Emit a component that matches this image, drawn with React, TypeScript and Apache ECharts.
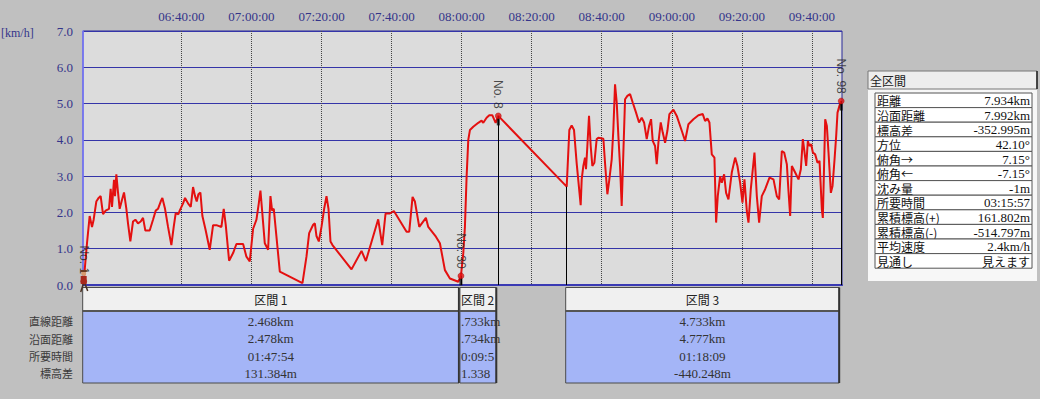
import React, { useEffect, useRef } from "react";
import * as echarts from "echarts";

// time in minutes after midnight, speed in km/h
const times = [
  372.1, 372.37, 373.04, 373.8, 374.47, 374.94, 375.7, 376.37, 376.94, 377.61, 378.37, 379.32, 379.8, 380.18,
  380.75, 381.04, 381.42, 381.9, 382.37, 383.04, 383.61, 384.28, 384.75, 385.42, 386.18, 386.85, 387.61, 388.37,
  389.04, 389.7, 390.94, 391.89, 392.66, 393.32, 394.08, 394.56, 395.32, 396.18, 397.13, 397.8, 398.37, 399.13,
  399.51, 400.47, 401.04, 401.89, 402.66, 403.32, 403.89, 404.37, 404.85, 405.42, 405.99, 406.94, 408.08, 409.04,
  409.99, 411.42, 412.08, 412.66, 413.61, 414.75, 415.7, 417.61, 418.56, 419.51, 420.47, 421.42, 422.09, 422.56,
  423.04, 423.8, 424.75, 425.42, 425.89, 426.37, 428.09, 434.56, 435.7, 436.47, 437.61, 438.09, 438.56, 439.23,
  439.99, 440.75, 441.42, 441.99, 442.56, 443.13, 448.56, 451.42, 452.66, 456.18, 457.33, 458.28, 459.52, 460.66,
  464.28, 465.04, 465.99, 466.66, 467.9, 469.8, 470.47, 472.66, 473.8, 475.23, 476.66, 479.04, 479.8, 480.47,
  480.94, 481.42, 481.9, 482.37, 483.32, 484.75, 485.7, 486.18, 487.13, 487.9, 488.75, 489.71, 490.47, 510.0,
  510.75, 511.42, 512.09, 512.85, 513.99, 514.28, 514.75, 515.23, 515.51, 515.9, 516.37, 516.85, 517.32, 517.9,
  518.56, 519.04, 520.47, 520.94, 521.61, 522.18, 522.85, 523.32, 523.8, 524.28, 524.75, 525.23, 525.7, 526.18,
  526.66, 527.32, 528.09, 528.85, 529.8, 530.66, 531.42, 532.09, 532.85, 533.51, 534.09, 534.56, 535.23, 535.7,
  536.18, 536.85, 537.42, 538.09, 538.75, 539.32, 540.47, 541.42, 542.85, 543.8, 544.75, 546.18, 547.61, 548.85,
  549.51, 550.18, 550.75, 551.42, 552.18, 552.66, 553.13, 553.8, 554.28, 554.94, 555.51, 556.18, 557.13, 558.09,
  558.75, 559.51, 560.18, 560.75, 561.42, 561.9, 562.56, 563.13, 563.61, 564.28, 564.94, 565.7, 566.66, 567.9,
  569.04, 569.99, 570.66, 571.42, 572.09, 572.85, 573.32, 573.8, 574.28, 575.23, 576.18, 576.85, 577.42, 577.8,
  578.37, 578.85, 579.32, 579.8, 580.28, 580.94, 581.61, 582.18, 582.85, 583.13, 583.8, 584.28, 584.75, 585.42,
  585.9, 586.47, 586.94, 587.32, 587.9, 588.37,
];
const speeds = [
  0.1, 0.4, 1.15, 1.9, 1.6, 1.8, 2.3, 2.4, 2.45, 1.95, 2.05, 2.1, 2.65, 2.15,
  2.9, 2.45, 3.05, 2.55, 2.1, 2.35, 2.55, 2.1, 1.7, 1.2, 1.75, 1.8, 1.7, 1.75,
  1.85, 1.5, 1.5, 1.8, 2.05, 2.1, 2.3, 2.4, 2.1, 1.6, 1.1, 1.6, 1.98, 1.95,
  2.05, 2.25, 2.4, 2.25, 2.15, 2.7, 2.45, 2.3, 2.5, 2.55, 1.9, 1.5, 0.97, 1.65,
  1.65, 1.6, 2.1, 1.65, 0.67, 0.88, 1.13, 1.13, 0.78, 0.65, 1.55, 1.8, 2.25, 2.6,
  2.05, 1.15, 0.97, 2.45, 2.05, 2.1, 0.37, 0.05, 0.78, 1.43, 1.66, 1.7, 1.35, 1.2,
  1.6, 2.1, 2.45, 2.1, 1.2, 1.1, 0.43, 0.94, 0.66, 1.81, 1.1, 1.97, 1.97, 2.04,
  1.47, 1.47, 2.43, 2.3, 1.6, 1.85, 1.6, 1.33, 1.15, 0.41, 0.18, 0.09, 0.25, 0.87,
  1.6, 2.98, 4.0, 4.27, 4.36, 4.47, 4.53, 4.47, 4.61, 4.68, 4.68, 4.47, 4.66, 2.71,
  4.27, 4.4, 4.27, 3.35, 2.2, 2.91, 3.28, 3.51, 3.19, 3.83, 4.66, 3.83, 3.28, 3.37,
  4.02, 4.06, 4.03, 3.37, 2.5, 2.91, 3.46, 4.29, 5.53, 5.03, 4.11, 3.28, 2.18, 3.65,
  5.12, 5.21, 5.26, 5.03, 4.75, 4.48, 4.61, 4.48, 4.02, 4.38, 4.57, 3.97, 3.83, 3.33,
  3.92, 4.48, 4.2, 3.92, 4.25, 4.71, 4.83, 4.66, 4.25, 3.97, 4.43, 4.57, 4.68, 4.71,
  4.52, 4.59, 4.48, 3.6, 3.51, 1.72, 2.45, 3.0, 2.82, 3.05, 2.54, 2.36, 3.1, 3.51,
  3.28, 2.82, 2.27, 2.91, 2.04, 1.72, 2.64, 3.19, 3.65, 2.45, 1.72, 2.45, 2.64, 2.96,
  2.91, 2.45, 2.36, 3.69, 3.65, 3.33, 2.59, 1.9, 3.28, 3.1, 2.91, 3.19, 4.02, 3.74,
  3.28, 3.97, 3.83, 3.88, 3.65, 3.6, 3.37, 3.42, 2.08, 1.85, 4.57, 4.38, 3.65, 2.54,
  2.73, 3.46, 4.11, 4.75, 4.95, 5.07,
];

const markerTimes = [372.1, 479.8, 490.47, 588.37];
const markerSpeeds = [0.1, 0.25, 4.66, 5.07];
const markerLabels = ["No. 1", "No. 30", "No. 8", "No. 98"];

const dropTimes = [479.8, 490.47, 510.0, 588.37];
const dropSpeeds = [0.25, 4.66, 2.71, 5.07];

const xMin = 371.9;
const xMax = 588.6;
const timeTicks = [400, 420, 440, 460, 480, 500, 520, 540, 560, 580];

const rowLabels = ["直線距離", "沿面距離", "所要時間", "標高差"];
const intervalNames = ["区間 1", "区間 2", "区間 3"];
const intervalStart = [372.1, 479.8, 510.0];
const intervalEnd = [479.8, 490.47, 588.37];
const interval1Values = ["2.468km", "2.478km", "01:47:54", "131.384m"];
const interval2Values = [".733km", ".734km", "0:09:5", "1.338"];
const interval3Values = ["4.733km", "4.777km", "01:18:09", "-440.248m"];

const summaryTitle = "全区間";
const summaryLabels = [
  "距離", "沿面距離", "標高差", "方位", "俯角→", "俯角←", "沈み量",
  "所要時間", "累積標高(+)", "累積標高(-)", "平均速度", "見通し",
];
const summaryValues = [
  "7.934km", "7.992km", "-352.995m", "42.10°", "7.15°", "-7.15°", "-1m",
  "03:15:57", "161.802m", "-514.797m", "2.4km/h", "見えます",
];

const pad = (n: number) => (n < 10 ? "0" + n : "" + n);
const fmtTime = (m: number) => `${pad(Math.floor(m / 60))}:${pad(Math.round(m % 60))}:00`;

const SERIF = '"Liberation Serif", "DejaVu Serif", serif';
const CJK = '"Noto Sans CJK JP", sans-serif';
const LABEL_COLOR = "#34348a";

export default function App() {
  const ref = useRef<HTMLDivElement>(null);

  useEffect(() => {
    if (!ref.current) return;
    const chart = echarts.init(ref.current, null, { renderer: "svg" });
    const lineData = times.map((t, i) => [t, speeds[i]]);
    const markerData = markerTimes.map((t, i) => [t, markerSpeeds[i]]);

    chart.setOption({
      animation: false,
      backgroundColor: "#c0c0c0",
      grid: {
        left: 83,
        top: 31,
        width: 759,
        height: 254,
        show: true,
        backgroundColor: "#dcdcdc",
        borderColor: "#2a2a9a",
        borderWidth: 1,
      },
      xAxis: [
        {
          type: "value",
          position: "top",
          min: xMin,
          max: xMax,
          axisLine: { show: true, lineStyle: { color: "#2a2a9a", width: 1 } },
          axisTick: { show: false, customValues: timeTicks },
          axisLabel: {
            customValues: timeTicks,
            formatter: (v: number) => fmtTime(v),
            color: LABEL_COLOR,
            fontFamily: SERIF,
            fontSize: 13,
            margin: 8,
          },
          splitLine: { show: true, lineStyle: { color: "#444", type: "dotted", width: 1 } },
        },
        {
          type: "value",
          position: "bottom",
          min: xMin,
          max: xMax,
          axisLine: { show: true, onZero: false, lineStyle: { color: "#3a3ab4", width: 2 } },
          axisTick: { show: false },
          axisLabel: { show: false },
          splitLine: { show: false },
        },
      ],
      yAxis: {
        type: "value",
        min: 0,
        max: 7,
        interval: 1,
        axisLine: { show: true, lineStyle: { color: "#7a7aff", width: 1.5 } },
        axisTick: { show: false },
        axisLabel: {
          formatter: (v: number) => v.toFixed(1),
          color: LABEL_COLOR,
          fontFamily: SERIF,
          fontSize: 13,
          margin: 10,
        },
        splitLine: { show: true, lineStyle: { color: "#3434a8", width: 1 } },
      },
      series: [
        {
          type: "line",
          data: lineData,
          showSymbol: false,
          symbol: "none",
          lineStyle: { color: "#e41010", width: 2 },
          z: 3,
          markLine: {
            silent: true,
            symbol: ["none", "none"],
            label: { show: false },
            lineStyle: { color: "#000", width: 1, type: "solid" },
            data: dropTimes.map((t, i) => [{ coord: [t, dropSpeeds[i]] }, { coord: [t, 0] }]),
          },
        },
        {
          type: "scatter",
          data: markerData.slice(1),
          symbol: "rect",
          symbolSize: [3, 7],
          symbolOffset: [0, 6],
          itemStyle: { color: "#111" },
          z: 4,
        },
        {
          type: "scatter",
          data: markerData,
          symbol: "circle",
          symbolSize: 6,
          itemStyle: { color: "#e41010", borderColor: "#900", borderWidth: 0.5 },
          z: 5,
          label: {
            show: true,
            position: "top",
            distance: 4,
            rotate: -90,
            align: "right",
            verticalAlign: "middle",
            color: "#222",
            fontFamily: '"Liberation Sans", sans-serif',
            fontSize: 12,
            formatter: (p: any) => markerLabels[p.dataIndex],
          },
        },
      ],
    });

    const px = (t: number) => chart.convertToPixel({ xAxisIndex: 0 }, t) as number;
    const py = (v: number) => chart.convertToPixel({ yAxisIndex: 0 }, v) as number;

    const graphics: any[] = [];
    graphics.push({
      type: "text",
      style: { text: "[km/h]", x: 1, y: 33, fill: LABEL_COLOR, font: `12px ${SERIF}`, verticalAlign: "middle" },
    });

    const headTop = 287.5;
    const headH = 23.5;
    const bodyTop = headTop + headH;
    const bodyH = 72;
    const rowY = [321, 338.5, 356, 373];

    rowLabels.forEach((l, i) => {
      graphics.push({
        type: "text",
        style: { text: l, x: 73, y: rowY[i], fill: "#3a3a3a", font: `11px ${CJK}`, align: "right", verticalAlign: "middle" },
      });
    });

    const intervalValues = [interval1Values, interval2Values, interval3Values];
    intervalNames.forEach((name, k) => {
      const x1 = px(intervalStart[k]) - 1;
      const x2 = px(intervalEnd[k]) - 2;
      const w = x2 - x1;
      const cx = (x1 + x2) / 2;
      graphics.push({
        type: "rect",
        shape: { x: x1, y: headTop, width: w, height: headH },
        style: { fill: "#f0f0f0", stroke: "#4a4a4a", lineWidth: 1 },
      });
      graphics.push({
        type: "rect",
        shape: { x: x1, y: bodyTop, width: w, height: bodyH },
        style: { fill: "#a4b5f7", stroke: "#4a4a4a", lineWidth: 1 },
      });
      graphics.push({
        type: "line",
        shape: { x1: x1, y1: bodyTop, x2: x2, y2: bodyTop },
        style: { stroke: "#555", lineWidth: 2 },
      });
      graphics.push({
        type: "line",
        shape: { x1: x2, y1: headTop, x2: x2, y2: bodyTop + bodyH },
        style: { stroke: "#333", lineWidth: 2 },
      });
      const narrow = w < 60;
      graphics.push({
        type: "text",
        style: {
          text: name,
          x: narrow ? x1 + 1 : cx,
          y: headTop + headH / 2,
          fill: "#222",
          font: `12px ${CJK}`,
          align: narrow ? "left" : "center",
          verticalAlign: "middle",
        },
      });
      intervalValues[k].forEach((v, i) => {
        graphics.push({
          type: "text",
          style: {
            text: v,
            x: narrow ? x1 + 1 : cx,
            y: rowY[i],
            fill: "#333",
            font: `13px ${SERIF}`,
            align: narrow ? "left" : "center",
            verticalAlign: "middle",
          },
        });
      });
    });

    // summary panel
    const pX = 868;
    const pY = 71;
    const pW = 169;
    graphics.push({
      type: "rect",
      shape: { x: pX, y: pY, width: pW, height: 210 },
      style: { fill: "#f7f7f7", stroke: "none" },
    });
    graphics.push({
      type: "rect",
      shape: { x: pX, y: pY, width: pW, height: 18 },
      style: { fill: "#ededed", stroke: "#777", lineWidth: 1 },
    });
    graphics.push({
      type: "line",
      shape: { x1: pX + pW, y1: pY, x2: pX + pW, y2: pY + 18 },
      style: { stroke: "#222", lineWidth: 1.5 },
    });
    graphics.push({
      type: "text",
      style: { text: summaryTitle, x: pX + 2, y: pY + 9.5, fill: "#222", font: `12px ${CJK}`, verticalAlign: "middle" },
    });
    const tX = 875;
    const tW = 157;
    const tTop = 93;
    const rH = 14.6;
    summaryLabels.forEach((l, i) => {
      const y = tTop + i * rH;
      graphics.push({
        type: "rect",
        shape: { x: tX, y, width: tW, height: rH },
        style: { fill: "#ffffff", stroke: "#555", lineWidth: 1 },
      });
      graphics.push({
        type: "text",
        style: { text: l, x: tX + 2, y: y + rH / 2 + 0.5, fill: "#111", font: `10px ${CJK}`, verticalAlign: "middle" },
        scaleX: 1.2,
        scaleY: 1.2,
        originX: tX + 2,
        originY: y + rH / 2 + 0.5,
      });
      graphics.push({
        type: "text",
        style: {
          text: summaryValues[i],
          x: tX + tW - 2,
          y: y + rH / 2 + 0.5,
          fill: "#111",
          font: i === summaryValues.length - 1 ? `10px ${CJK}` : `12px ${SERIF}`,
          align: "right",
          verticalAlign: "middle",
        },
        scaleX: i === summaryValues.length - 1 ? 1.2 : 1.08,
        scaleY: i === summaryValues.length - 1 ? 1.2 : 1.08,
        originX: tX + tW - 2,
        originY: y + rH / 2 + 0.5,
      });
    });

    // hiker icon at the start point
    const hx = px(markerTimes[0]);
    const hy = py(0);
    graphics.push(
      { type: "line", shape: { x1: hx, y1: hy - 2, x2: hx - 3, y2: hy + 7 }, style: { stroke: "#4a3020", lineWidth: 1.5 }, z: 20 },
      { type: "line", shape: { x1: hx + 1, y1: hy - 2, x2: hx + 4, y2: hy + 6 }, style: { stroke: "#4a3020", lineWidth: 1.5 }, z: 20 },
      { type: "rect", shape: { x: hx - 3, y: hy - 9, width: 6, height: 8 }, style: { fill: "#a8281c" }, z: 20 },
      { type: "circle", shape: { cx: hx, cy: hy - 11.5, r: 2.5 }, style: { fill: "#d49a70" }, z: 20 },
      { type: "rect", shape: { x: hx - 3, y: hy - 15, width: 6, height: 2 }, style: { fill: "#6a3a20" }, z: 20 }
    );

    chart.setOption({ graphic: graphics });

    return () => chart.dispose();
  }, []);

  return (
    <div
      ref={ref}
      style={{ position: "absolute", left: 0, top: 0, width: 1040, height: 399 }}
    />
  );
}
